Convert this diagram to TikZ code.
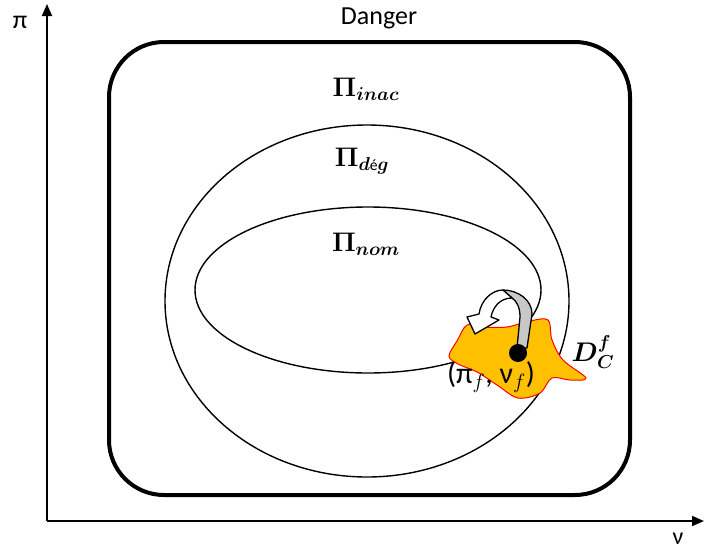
\documentclass[tikz,border=0pt]{standalone}
\usepackage{amsmath,bm}
\usepackage{fontspec}
\setmainfont{Carlito}
\usetikzlibrary{arrows.meta}
\definecolor{blobfill}{HTML}{FFC000}
\definecolor{graybd}{HTML}{C8C8C8}
\tikzset{
  axis/.style={line width=1.8pt,-{Triangle[length=12pt,width=10pt]}},
  region/.style={line width=1.4pt},
  lab/.style={font=\fontsize{26}{28}\selectfont},
  mlab/.style={font=\fontsize{20}{22}\selectfont, scale=1.3},
}
\begin{document}
\begin{tikzpicture}[x=1pt,y=-1pt]
\useasboundingbox (0,0) rectangle (704,549);
% axes
\coordinate (O) at (47,521);
\coordinate (Ytop) at (47,4);
\coordinate (Xend) at (704,521);
\draw[axis] (O) -- (Ytop);
\draw[axis] (O) -- (Xend);
\node[lab] (pi) at (20,22) {π};
\node[font=\fontsize{24}{26}\selectfont,inner sep=0pt,anchor=base] (nu) at (678,544) {ν};
% danger
\node[lab] (danger) at (379,18) {Danger};
\draw[line width=4pt,rounded corners=55pt] (109,42) rectangle (630,495);
% ellipses
\draw[region] (367,301) ellipse [x radius=202, y radius=176];
\draw[region] (368,290) ellipse [x radius=173, y radius=83];
\node[mlab] (inac) at (366,89) {$\bm{\Pi_{inac}}$};
\node[mlab] (deg) at (362,161) {$\bm{\Pi}_{\bm{d}\text{\normalfont\fontsize{12}{14}\selectfont é}\bm{g}}$};
\node[mlab] (nom) at (366,244) {$\bm{\Pi_{nom}}$};
% blob
\draw[red,fill=blobfill,line width=1pt] plot[smooth cycle,tension=0.55] coordinates {
 (449,356) (457,341) (467,325) (483,327) (507,327) (530,321) (548,320)
 (552,340) (563,360) (586,378) (570,380) (552,378) (540,393) (518,398)
 (497,385) (477,372) (458,364)};
% curved arrow
\draw[line width=1.3pt,fill=graybd,line join=round] (517,348) -- (520,317) .. controls (520,308) and (517,301) .. (512,298)
  -- (503,290) .. controls (518,290) and (532,300) .. (532,314) -- (527,348) -- cycle;
\draw[line width=1.3pt,fill=white,line join=round] (503,290) .. controls (492,290) and (481,300) .. (479,314)
  -- (467,317) -- (475,334) -- (499,320) -- (491,317) .. controls (493,307) and (500,298) .. (512,298) -- cycle;
\node[circle,fill=black,minimum size=18pt,inner sep=0pt] (pt) at (518,353) {};
\node (pf) at (491,377) {\fontsize{30}{32}\selectfont(π$_{f}$, ν$_{f}$)};
\node[mlab] (dcf) at (593,352) {$\bm{D_C^f}$};
\end{tikzpicture}
\end{document}
